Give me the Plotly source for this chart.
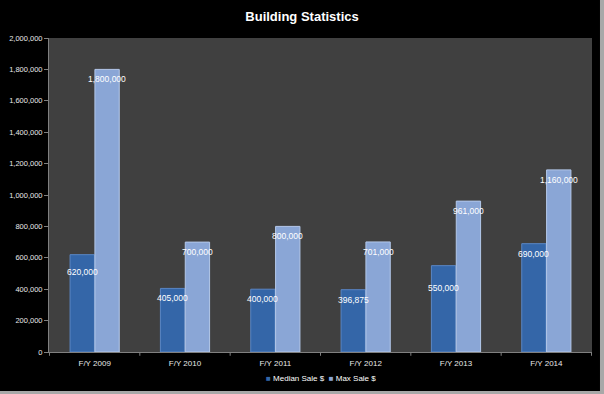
import plotly.graph_objects as go

categories = ["F/Y 2009", "F/Y 2010", "F/Y 2011", "F/Y 2012", "F/Y 2013", "F/Y 2014"]
median_sale = [620000, 405000, 400000, 396875, 550000, 690000]
max_sale = [1800000, 700000, 800000, 701000, 961000, 1160000]
y_ticks = list(range(0, 2000001, 200000))
series_names = ["Median Sale $", "Max Sale $"]
series_colors = ["#3466A8", "#8AA6D6"]
series_edges = ["#5A86C4", "#B4C8EA"]
# vertical label offsets (px, style only) as placed in the original
median_label_shift = [-17, -10, -10, -10, -22, -10]
max_label_shift = [-10, -10, -10, -10, -10, -10]

def fmt(v):
    return f"{v:,}"

fig = go.Figure()
for name, vals, col, edge in zip(series_names, [median_sale, max_sale], series_colors, series_edges):
    fig.add_trace(go.Bar(
        name=name, x=categories, y=vals, showlegend=False,
        marker=dict(color=col, line=dict(color=edge, width=1)),
    ))

# data labels (drawn above all bars so they are never hidden)
for vals, shift, yshifts in zip([median_sale, max_sale], [-12.5, 12.5],
                                [median_label_shift, max_label_shift]):
    for c, v, ys in zip(categories, vals, yshifts):
        fig.add_annotation(x=c, y=v, xref="x", yref="y", text=fmt(v), showarrow=False,
                           xshift=shift, yshift=ys, yanchor="middle",
                           font=dict(color="white", size=8.5, family="Liberation Sans"))

# legend (compact, Excel style)
legend_text = "&nbsp;&nbsp;".join(
    f"<span style='color:{c}'>■</span> {n}" for n, c in zip(series_names, series_colors))
fig.add_annotation(x=0.5, y=-0.085, xref="paper", yref="paper", text=legend_text,
                   showarrow=False, xanchor="center", yanchor="middle",
                   font=dict(color="white", size=8, family="Liberation Sans"))

fig.update_layout(
    width=604, height=394,
    paper_bgcolor="#000000", plot_bgcolor="#404040",
    margin=dict(l=49, r=12, t=38, b=42),
    barmode="group", bargap=0.45, bargroupgap=0.02,
    title=dict(text="<b>Building Statistics</b>", x=0.5, xanchor="center", y=0.957, yanchor="middle",
               font=dict(color="white", size=13, family="Liberation Sans")),
    font=dict(family="Liberation Sans", color="white", size=8),
    showlegend=False,
    xaxis=dict(showgrid=False, showline=True, linecolor="#808080", linewidth=1,
               ticks="", ticklabelstandoff=3, tickfont=dict(size=8, color="#e8e8e8"),
               automargin=False),
    yaxis=dict(range=[0, 2000000], tickvals=y_ticks, ticktext=[fmt(v) for v in y_ticks],
               showgrid=False, showline=True, linecolor="#808080", linewidth=1,
               ticks="outside", ticklen=4, tickcolor="#808080",
               tickfont=dict(size=7.5, color="#e8e8e8"), zeroline=False, automargin=False),
)

# category separator tick marks on the x axis
for i in range(len(categories) + 1):
    fig.add_shape(type="line", xref="x", yref="paper", x0=i - 0.5, x1=i - 0.5, y0=0, y1=-0.012,
                  line=dict(color="#808080", width=1))

# window border at right/bottom
fig.add_shape(type="rect", xref="paper", yref="paper", x0=1.0147, x1=1.03, y0=-0.2, y1=1.2,
              fillcolor="#a8a8a8", line=dict(width=0), layer="above")
fig.add_shape(type="rect", xref="paper", yref="paper", x0=-0.1, x1=1.03, y0=-0.124, y1=-0.2,
              fillcolor="#a8a8a8", line=dict(width=0), layer="above")

fig.write_html("out.html", config={"displayModeBar": False},
               post_script="document.body.style.margin='0';document.body.style.overflow='hidden';")
